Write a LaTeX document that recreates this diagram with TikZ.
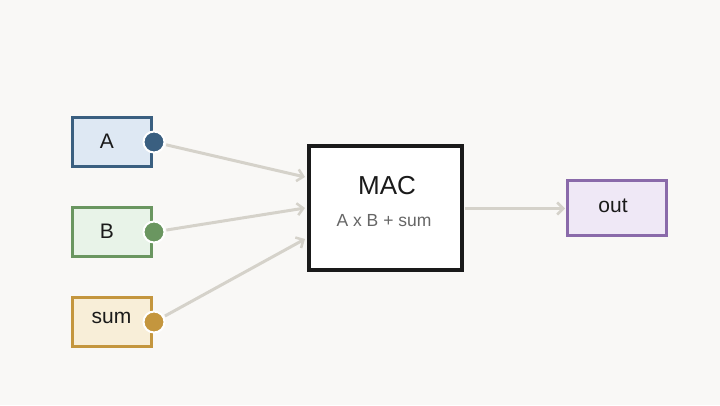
\documentclass[tikz,border=0pt]{standalone}
\usepackage{fontspec}
\setmainfont{Liberation Sans}
\usetikzlibrary{arrows.meta}
\definecolor{bg}{HTML}{F9F8F6}
\definecolor{blueS}{HTML}{3A5F80}\definecolor{blueF}{HTML}{DEE8F3}
\definecolor{greenS}{HTML}{6A9660}\definecolor{greenF}{HTML}{E8F3E8}
\definecolor{goldS}{HTML}{C4963E}\definecolor{goldF}{HTML}{F8EED8}
\definecolor{purpS}{HTML}{8A6AAA}\definecolor{purpF}{HTML}{EFE8F6}
\definecolor{wire}{HTML}{D5D2CA}
\definecolor{ink}{HTML}{1A1A1A}
\definecolor{sub}{HTML}{666666}
\tikzset{
  port/.style={draw=#1S, fill=#1F, line width=3pt, minimum width=79pt, minimum height=49pt, inner sep=0pt},
  lab/.style={font=\fontsize{21}{21}\selectfont, text=ink},
  dot/.style={circle, fill=#1S, draw=white, line width=2pt, minimum size=21pt, inner sep=0pt, outer sep=2pt},
  wirearrow/.style={draw=wire, line width=3pt, -{Straight Barb[length=6pt,width=12pt,line width=2.5pt]}},
}
\begin{document}
\begin{tikzpicture}[x=1pt,y=-1pt]
\fill[bg] (0,0) rectangle (720,405);
\useasboundingbox (0,0) rectangle (720,405);
\node[port=blue] (A) at (111.5,141.5) {};
\node[port=green] (B) at (111.5,231.5) {};
\node[port=gold] (S) at (111.5,321.5) {};
\node[lab] (Alab) at (107,141) {A};
\node[lab] (Blab) at (107,231) {B};
\node[lab] (Slab) at (111.5,318) {sum};
\node[dot=blue] (dA) at (154,142) {};
\node[dot=green] (dB) at (154,232) {};
\node[dot=gold] (dS) at (154,322) {};
\node[draw=ink, fill=white, line width=4pt, minimum width=153pt, minimum height=124pt, inner sep=0pt] (MAC) at (385,207.5) {};
\node[font=\fontsize{26}{26}\selectfont, text=ink] (MACt) at (387,186) {MAC};
\node[font=\fontsize{17.5}{17.5}\selectfont, text=sub] (MACs) at (384,221) {A x B + sum};
\node[draw=purpS, fill=purpF, line width=3pt, minimum width=99pt, minimum height=55pt, inner sep=0pt] (out) at (616.5,207.5) {};
\node[lab] (outlab) at (613,206) {out};
\coordinate (inA) at (305,177);
\coordinate (inB) at (305,208);
\coordinate (inS) at (305,239);
\coordinate (oMAC) at (465,208.5);
\coordinate (inO) at (565,208.5);
\draw[wirearrow] (dA) -- (inA);
\draw[wirearrow] (dB) -- (inB);
\draw[wirearrow] (dS) -- (inS);
\draw[wirearrow] (oMAC) -- (inO);
\end{tikzpicture}
\end{document}
